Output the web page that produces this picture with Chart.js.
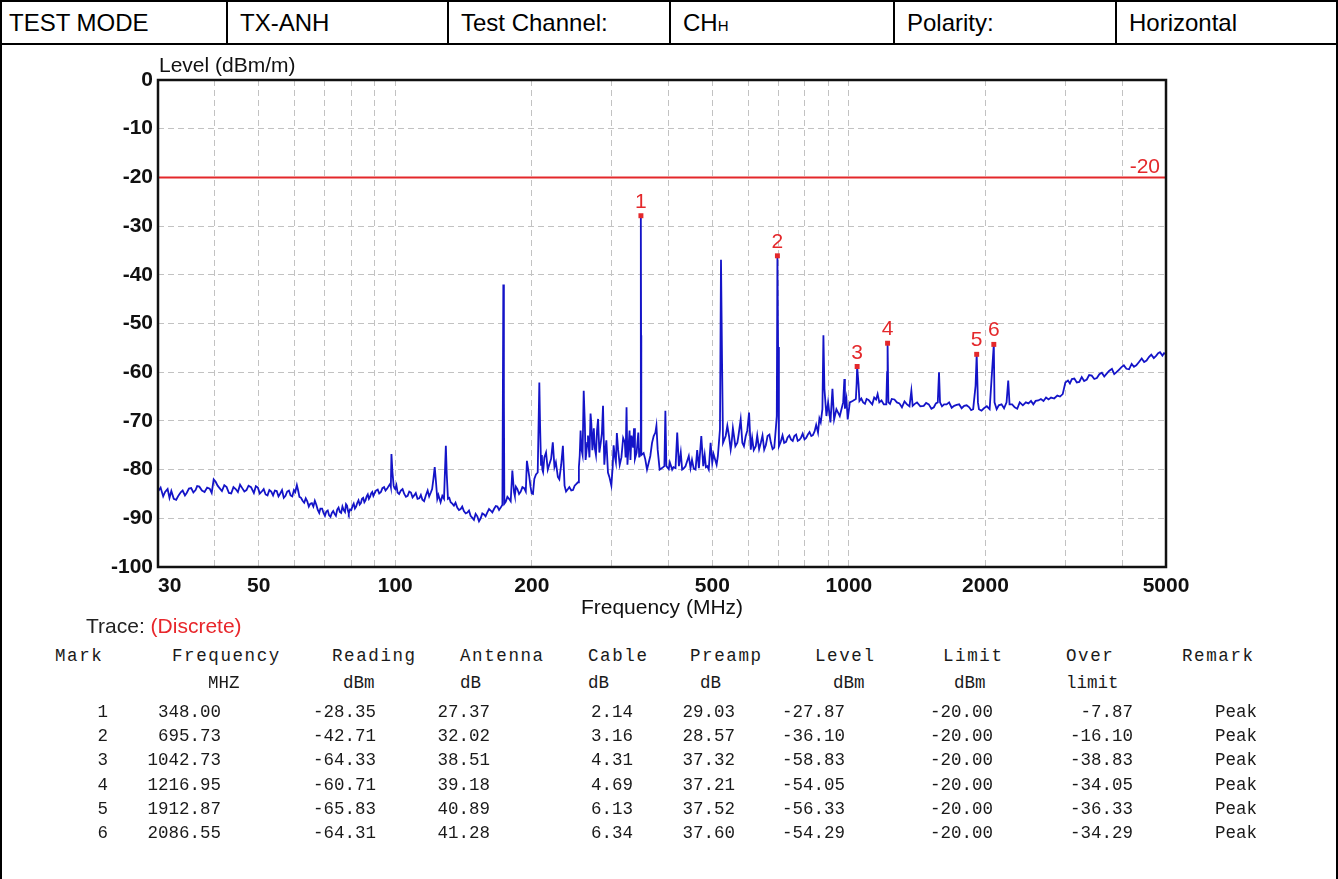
<!DOCTYPE html>
<html>
<head>
<meta charset="utf-8">
<title>Radiated emission - TX-ANH horizontal</title>
<script src="https://cdn.jsdelivr.net/npm/chart.js@4.4.1/dist/chart.umd.min.js"></script>
<style>
  body { margin: 0; background: #fff; }
  #page { position: relative; width: 1338px; height: 879px; overflow: hidden; font-family: Arial, "Liberation Sans", sans-serif; }
  #frame { position: absolute; left: 0; top: 0; width: 1334px; height: 900px; border-left: 2px solid #000; border-right: 2px solid #000; }
  #head { position: absolute; left: 0; top: 0; width: 1338px; border-collapse: collapse; table-layout: fixed; }
  #head td { border: 2px solid #000; height: 41px; padding: 0 0 0 12px; font-size: 24px; color: #000; white-space: nowrap; }
  #head td:first-child { padding-left: 7px; }
  #head .sub { font-size: 15px; }
  #chartBox { position: absolute; left: 0; top: 46px; }
  #traceLbl { position: absolute; left: 86px; top: 614px; font-size: 21px; color: #222; }
  #traceLbl span { color: #e8262b; }
  .t { position: absolute; font-family: "Liberation Mono", "Courier New", monospace; font-size: 17.5px; color: #1a1a1a; white-space: pre; line-height: 20px; }
  .t.h { letter-spacing: 1.6px; }
</style>
</head>
<body>
<div id="page">
  <div id="frame"></div>
  <table id="head">
    <colgroup><col style="width:226px"><col style="width:221px"><col style="width:222px"><col style="width:224px"><col style="width:222px"><col style="width:223px"></colgroup>
    <tr><td>TEST MODE</td><td>TX-ANH</td><td>Test Channel:</td><td>CH<span class="sub">H</span></td><td>Polarity:</td><td>Horizontal</td></tr>
  </table>
  <div id="chartBox"><canvas id="myChart" width="1338" height="580"></canvas></div>
  <div id="traceLbl">Trace: <span>(Discrete)</span></div>
  <div id="tbl"></div>
</div>
<script>
// axis ranges and ticks
const freqRange = [30, 5000];
const levelRange = [-100, 0];
const gridFreqs = [30, 40, 50, 60, 70, 80, 90, 100, 200, 300, 400, 500, 600, 700, 800, 900, 1000, 2000, 3000, 4000, 5000];
const xTickLabels = [30, 50, 100, 200, 500, 1000, 2000, 5000];
const limitLevel = -20;

// marker table
const markNo = [1, 2, 3, 4, 5, 6];
const markFreq = [348.00, 695.73, 1042.73, 1216.95, 1912.87, 2086.55];
const reading = [-28.35, -42.71, -64.33, -60.71, -65.83, -64.31];
const antenna = [27.37, 32.02, 38.51, 39.18, 40.89, 41.28];
const cable = [2.14, 3.16, 4.31, 4.69, 6.13, 6.34];
const preamp = [29.03, 28.57, 37.32, 37.21, 37.52, 37.60];
const markLevel = [-27.87, -36.10, -58.83, -54.05, -56.33, -54.29];
const markLimit = [-20.00, -20.00, -20.00, -20.00, -20.00, -20.00];
const overLimit = [-7.87, -16.10, -38.83, -34.05, -36.33, -34.29];
const remark = ['Peak', 'Peak', 'Peak', 'Peak', 'Peak', 'Peak'];

const trace = [
  [30,-84.5],[30.8,-85.5],[31.5,-84],[31.8,-85.8],[32.5,-86],[33.3,-85.3],[34,-84.3],[34.7,-84.8],[35.5,-83.8],[36.3,-84.2],
  [37,-83.5],[38,-84.6],[39,-83.9],[39.8,-82],[40.6,-83.3],[41.5,-84.4],[42.5,-83.6],[43.5,-84.9],[44.5,-84],[45.5,-83.1],
  [46.5,-84.5],[47.5,-83.3],[48.8,-84.8],[49.8,-83.7],[50.8,-84.5],[51.8,-85.1],[52.8,-84.2],[53.8,-85.3],[54.8,-84.4],[55.8,-84.9],
  [56.8,-85.8],[57.8,-84.5],[58.8,-85.3],[59.8,-84.2],[60.7,-83.2],[61.5,-85.6],[62.5,-86.4],[63.5,-85.9],[64.5,-87.6],[65.5,-86.9],
  [66.5,-86.4],[67.5,-88.3],[68.4,-88],[69.5,-88.9],[70.5,-88.6],[71.5,-89.4],[72.5,-88.9],[73.5,-89.1],[74.5,-88.2],[75.5,-88.7],
  [76.5,-87.6],[77.5,-88.7],[78.3,-87.4],[79,-89],[80,-88.3],[81,-87],[82,-87.6],[83,-86.3],[84,-86.9],[85,-85.8],
  [86,-86.3],[87,-85.1],[88,-85.6],[89,-84.6],[90,-84.9],[91.5,-84.1],[93,-84.6],[94.5,-83.6],[96,-83.9],[97.5,-82.9],
  [98.1,-76.8],[98.6,-80.5],[99.2,-83.3],
  [30.4,-83.7],[31.1,-84.6],[32.1,-84.4],[32.9,-86.2],[33.7,-84.6],[34.4,-85.3],[35.1,-83.9],[35.9,-84.7],[36.6,-83.4],[37.5,-84.3],
  [38.5,-83.7],[39.4,-84.8],[40.2,-82.5],[41,-83.8],[42,-83.2],[43,-84.8],[44,-83.6],[45,-84.6],[46,-83.8],[47,-84.2],
  [48.1,-83.6],[49.3,-83.4],[50.3,-84.9],[51.3,-84],[52.3,-85.3],[53.3,-84.5],[54.3,-84.3],[55.3,-85.5],[56.3,-84.2],[57.3,-85.4],
  [58.3,-84.3],[59.3,-85.5],[60.2,-84.6],[61.1,-84.3],[62,-85.8],[63,-86.8],[64,-86.5],[65,-87],[66,-87.6],[67,-87.2],
  [68,-88.9],[69,-88],[70,-89.5],[71,-88.4],[72,-89.7],[73,-88.5],[74,-89.5],[75,-87.8],[76,-88.9],[77,-88.3],
  [77.9,-87.1],[78.7,-88.5],[79.5,-88.2],[80.5,-87.5],[81.5,-88],[82.5,-86.8],[83.5,-87.2],[84.5,-86],[85.5,-86.7],[86.5,-85.5],
  [87.5,-86],[88.5,-84.9],[89.5,-85.4],[90.7,-84.3],[92.2,-84.9],[93.7,-83.8],[95.2,-84.3],[96.7,-83.4],[97.8,-83.5],[99.6,-83.8],
  [100,-84],[101.2,-84.7],[102.9,-84.3],[104.7,-85],[106.5,-85.4],[108.3,-84.7],[110.1,-85.3],[112,-86],[113.9,-85.2],[115.8,-86.5],
  [117.9,-84.3],[119.8,-84.7],[121.4,-81.9],[122.2,-79.5],[123,-82.6],[123.8,-86],[125.9,-86.7],[128.1,-86],[129.3,-75.1],[129.9,-81],
  [130.7,-86],[132.5,-86.7],[134.7,-87.4],[137,-87.8],[139.4,-88.1],[141.7,-88.5],[144.2,-88.8],[146.6,-89.5],[149.1,-90.3],[151.7,-89.6],
  [154.3,-90],[156.9,-89.2],[159.6,-88.8],[162.3,-88.4],[165.1,-88.1],[168,-87.6],[170.8,-87.8],[172.3,-87.2],[173.1,-42],[173.6,-64.8],
  [174,-87],[175.2,-86.6],[178.2,-86],[179.7,-86.5],[181.2,-80.2],[182.8,-84.7],[185.9,-84],[189.1,-84.5],[192.4,-83.8],[195.1,-78.2],
  [197.5,-81.5],[199.9,-84.9],[202.6,-81.9],[206.1,-80.6],[207.8,-62.1],[208.6,-71],[209.6,-79],[213.2,-77.5],[216.9,-80],[220.6,-77.8],
  [222.5,-74.4],[224.4,-79.5],[228.3,-81.5],[232.2,-79],[234.2,-75.1],[236.2,-83.3],[240.3,-84],[244.4,-84.3],[248.6,-83.3],[252.9,-82.6],
  [255.1,-77.1],[257.3,-75.8],[260.3,-63.8],[263.8,-76.5],[266,-73],[270.6,-70.6],[275.3,-75.5],[280,-69.6],[283.8,-74.5],[287.1,-66.9],
  [290.5,-76],[294.4,-80.6],[299.5,-83.3],[304.6,-77.1],[309.9,-75.8],[315.2,-77.5],[320.7,-74.4],[323.5,-67.2],[326.2,-76.5],[331.8,-73],
  [337.6,-77.8],[343.4,-72.4],[346.4,-75.8],[347.7,-75],[348.3,-52.4],[348.7,-77],
  [100.6,-83.2],[102,-85],[103.8,-84],[105.6,-85.6],[107.4,-84.5],[109.2,-85.7],[111,-84.8],[113,-85.9],[114.8,-86.2],[116.8,-85.3],
  [118.8,-85.5],[120.6,-84],[124.5,-85.2],[127,-85.4],[131.6,-85.8],[133.6,-87],[135.8,-86.8],[138.2,-88.3],[140.5,-87.6],[143,-89],
  [145.4,-88.4],[147.9,-89.9],[150.4,-89.1],[153,-90.6],[155.6,-89],[158.2,-89.6],[161,-88.1],[163.7,-88.8],[166.6,-87.5],[169.4,-88.3],
  [176.7,-85.6],[183.5,-85.4],[184.5,-83.5],[187.5,-85],[190.7,-83.6],[194,-84.5],[198.7,-83.5],[201.2,-85],[204.3,-81],[211,-80],
  [210.5,-77],[211.8,-80.5],[215,-76.5],[218.5,-79],[226,-78.5],[230,-82],[238,-84.5],[242,-83.6],[246.5,-84.2],[250.5,-83],
  [254,-79.5],[256.2,-72],[258.8,-77],[261.8,-70.5],[262.8,-78],[265,-74.5],[268,-77.5],[269.5,-68.5],[272,-76],[274,-71.5],
  [277,-77],[278.5,-72],[281.8,-76.5],[285.5,-72.5],[289,-79],[292,-74],[296.5,-81.5],[301.5,-79.5],[303,-75],[306.5,-78.5],
  [308,-72.5],[312.5,-79],[318,-73.5],[322,-77.5],[325,-79],[328.5,-72],[330,-78],[334.5,-75.5],[336,-71.5],[340.5,-76.5],[345,-77.5],
  [352.8,-76.6],[355.8,-77.9],[358.9,-80],[362,-78.6],[365,-77.2],[368.2,-74.5],[371.3,-73.1],[374.5,-72.4],[376.5,-71],[378.9,-75.9],
  [382.7,-80],[387.3,-79.7],[392,-79.3],[394,-67.9],[396,-79.3],[400.8,-79.9],[407.8,-80],[414.8,-79.7],[418.4,-72.4],[422,-79.3],
  [429,-80],[436.3,-79.3],[443.7,-77.2],[447.6,-79.7],[459.2,-80],[467.1,-79.7],[472.8,-73.1],[477.5,-79.3],[487.2,-79.3],[495.6,-74.5],
  [499.8,-78.6],[508.4,-78.3],[514.3,-77.2],[519.8,-71.7],[522.5,-36.9],[525.2,-57.2],[527.9,-74.5],[535.1,-73.1],[539.6,-71],[544.2,-73.1],
  [548.8,-75.9],[558.1,-73.1],[567.7,-74.5],[577.4,-69.7],[582.3,-74.5],[592.4,-73.1],[602.5,-68.3],[607.7,-75.9],[623.4,-75.2],[639.6,-74.5],
  [650.6,-75.9],[661.8,-73.1],[673.2,-74.5],[684.7,-75.5],[690,-71.7],[693.5,-69],[698,-54.8],[701,-75.2],[720,-74.5],[732.6,-73.4],
  [745.2,-73.8],[758.2,-73.1],[771.3,-74.1],[784.7,-73.4],[798.3,-73.8],[812.1,-72.8],[826.2,-73.1],[840.5,-72.1],[855,-72.4],[866.8,-70.3],
  [874.2,-67.6],[878.7,-52.4],[883.2,-63.4],[892.3,-69],[899.9,-66.2],[910.6,-70.3],[919.9,-63.4],[927.7,-69.7],[938.6,-67.6],[954.8,-69],
  [403,-78.5],[410.5,-79.5],[426,-76.5],[432,-79.8],[451,-78],[455,-79.8],[463,-76],[481,-77],[484,-79.5],[491,-80],[503,-76.8],[511,-79],
  [551,-74.8],[555,-71.5],[562,-75.2],[571,-73],[587,-75.2],[597,-72],[612,-73.5],[617,-76],[628,-73],[634,-75.8],[645,-73],[656,-75],
  [668,-72.8],[679,-75.8],[708,-74.2],[714,-73],[727,-74.3],[739,-73],[752,-74.1],[765,-72.8],[778,-73.9],[791,-72.6],[805,-73.5],
  [819,-72.3],[833,-72.9],[847,-70.8],[861,-69.5],
  [971.3,-66.2],[977.3,-61.4],[980,-67.5],[987.6,-65.5],[994,-69.7],[1004.7,-66.2],[1019,-65.9],[1036,-65.5],[1040,-62.4],[1050,-62.4],
  [1055,-65.9],[1075,-66.2],[1094,-65.5],[1116,-66.2],[1137,-65.2],[1157,-64.5],[1167,-66.2],[1194,-66.6],[1209,-66.6],[1214,-60],
  [1222,-66.2],[1243,-65.5],[1276,-66.2],[1309,-67.2],[1343,-66.6],[1373,-63.8],[1382,-66.9],[1413,-66.2],[1462,-66.9],[1500,-66.6],
  [1539,-67.2],[1570,-66.2],[1580,-60],[1588,-66.2],[1621,-66.6],[1663,-66.2],[1706,-66.9],[1750,-66.6],[1795,-66.9],[1842,-67.2],
  [1879,-67.6],[1902,-62.8],[1925,-66.2],[1935,-67.6],[1985,-67.4],[2043,-67.6],[2064,-61],[2094,-66.2],[2117,-67.6],[2170,-66.6],
  [2226,-66.2],[2245,-61.7],[2260,-66.6],[2320,-67.2],[2380,-66.2],[2455,-66.2],[2520,-65.9],[2580,-65.9],[2650,-65.5],[2720,-65.2],
  [2790,-65.2],[2880,-64.8],[2960,-64.5],[3000,-62.1],[3040,-61.7],[3101,-61.4],[3180,-62.1],[3260,-61],[3345,-61.5],[3430,-60.7],
  [3520,-61.2],[3610,-60.1],[3700,-60.3],[3800,-59.3],[3890,-60],[3984,-59],[4090,-59.3],[4200,-58.3],[4300,-58.6],[4420,-57.2],
  [4530,-57.6],[4640,-56.4],[4760,-56.6],[4850,-55.9],[4910,-56.6],[5000,-56.3],
  [1065,-65.4],[1085,-66.5],[1105,-65.7],[1126,-66.6],[1148,-65.6],[1180,-65.8],[1232,-66.5],[1260,-65.6],[1292,-66.4],[1326,-66],
  [1360,-67],[1397,-66.5],[1437,-67],[1480,-66.3],[1520,-67.5],[1555,-66.4],[1604,-67],[1642,-66.6],[1685,-67.3],[1728,-66.7],
  [1772,-67.4],[1818,-66.8],[1860,-67.8],[1960,-67.9],[2014,-67],[2140,-66.8],[2198,-67.4],[2290,-66.6],[2350,-67.5],[2418,-66.8],
  [2488,-66.4],[2550,-66.6],[2615,-65.8],[2685,-65.9],[2755,-65.6],[2835,-65.4],[2920,-65],
  [3070,-62.3],[3140,-61.3],[3220,-62],[3300,-61.8],[3385,-60.6],[3475,-61.4],[3565,-60.4],[3655,-60.9],[3750,-59.7],[3845,-60.4],
  [3937,-59.5],[4037,-58.6],[4145,-59.4],[4250,-58.9],[4360,-57.9],[4475,-57.9],[4585,-56.9],[4700,-57.1],[4805,-56.1],[4950,-56.1]
];

const FONT = 'Arial, "Liberation Sans", sans-serif';
const RED = '#e4282b';

// the trace passes through each marked peak
const tracePts = trace.map(p => ({ x: p[0], y: p[1] }))
  .concat(markFreq.map((f, i) => ({ x: f, y: markLevel[i] })))
  .sort((a, b) => a.x - b.x);

const overlay = {
  id: 'overlay',
  afterDraw(chart) {
    const { ctx, chartArea: a, scales: { x, y } } = chart;
    ctx.save();
    ctx.fillStyle = RED;
    ctx.font = '21px ' + FONT;
    ctx.textAlign = 'center';
    ctx.textBaseline = 'alphabetic';
    markFreq.forEach((f, i) => {
      ctx.fillText(String(markNo[i]), x.getPixelForValue(f), y.getPixelForValue(markLevel[i]) - 8);
    });
    ctx.textAlign = 'right';
    ctx.fillText(String(limitLevel), a.right - 6, y.getPixelForValue(limitLevel) - 4);

    ctx.fillStyle = '#111';
    ctx.textAlign = 'left';
    ctx.font = '21px ' + FONT;
    ctx.fillText('Level (dBm/m)', a.left + 1, a.top - 8);

    ctx.strokeStyle = '#111';
    ctx.lineWidth = 2.5;
    ctx.strokeRect(a.left, a.top, a.right - a.left, a.bottom - a.top);
    ctx.restore();
  }
};

const ctx = document.getElementById('myChart');
const myChart = new Chart(ctx, {
  type: 'line',
  data: {
    datasets: [
      {
        label: 'Markers',
        data: markFreq.map((f, i) => ({ x: f, y: markLevel[i] })),
        showLine: false,
        pointStyle: 'rect',
        pointRadius: 3.5,
        backgroundColor: RED,
        borderWidth: 0
      },
      {
        label: 'Trace',
        data: tracePts,
        borderColor: '#1414c8',
        borderWidth: 1.8,
        pointRadius: 0,
        tension: 0
      },
      {
        label: 'Limit',
        data: [{ x: freqRange[0], y: limitLevel }, { x: freqRange[1], y: limitLevel }],
        borderColor: RED,
        borderWidth: 2,
        pointRadius: 0
      }
    ]
  },
  options: {
    responsive: false,
    animation: false,
    layout: { padding: { left: 0, top: 34, right: 172, bottom: 0 } },
    plugins: {
      legend: { display: false },
      tooltip: { enabled: false }
    },
    scales: {
      x: {
        type: 'logarithmic',
        min: freqRange[0],
        max: freqRange[1],
        afterBuildTicks: s => { s.ticks = gridFreqs.map(v => ({ value: v })); },
        afterFit: s => { s.height = 59; },
        grid: { color: '#c2c2c2', lineWidth: 1, drawTicks: false },
        border: { display: false, dash: [6, 4] },
        ticks: {
          autoSkip: false,
          maxRotation: 0,
          padding: 7,
          color: '#111',
          font: { family: FONT, size: 21, weight: 'bold' },
          callback: v => xTickLabels.includes(v) ? (v === freqRange[0] ? '    ' + v : String(v)) : ''
        },
        title: {
          display: true,
          text: 'Frequency (MHz)',
          color: '#111',
          font: { family: FONT, size: 21 },
          padding: { top: 0, bottom: 5 }
        }
      },
      y: {
        min: levelRange[0],
        max: levelRange[1],
        afterFit: s => { s.width = 158; },
        grid: { color: '#c2c2c2', lineWidth: 1, drawTicks: false },
        border: { display: false, dash: [6, 4] },
        ticks: {
          stepSize: 10,
          padding: 5,
          color: '#111',
          font: { family: FONT, size: 21, weight: 'bold' },
          callback: v => String(v)
        }
      }
    }
  },
  plugins: [overlay]
});

// marker table under the chart
const tbl = document.getElementById('tbl');
function put(text, x, y, align, cls) {
  const d = document.createElement('div');
  d.className = 't' + (cls ? ' ' + cls : '');
  d.textContent = text;
  d.style.top = (y - 10) + 'px';
  if (align === 'right') d.style.right = (1338 - x) + 'px';
  else d.style.left = x + 'px';
  tbl.appendChild(d);
}
const heads = [['Mark', 55], ['Frequency', 172], ['Reading', 332], ['Antenna', 460], ['Cable', 588],
  ['Preamp', 690], ['Level', 815], ['Limit', 943], ['Over', 1066], ['Remark', 1182]];
heads.forEach(h => put(h[0], h[1], 656, 'left', 'h'));
const units = [['MHZ', 208], ['dBm', 343], ['dB', 460], ['dB', 588], ['dB', 700], ['dBm', 833], ['dBm', 954], ['limit', 1066]];
units.forEach(u => put(u[0], u[1], 683, 'left'));
const rightEdges = [108, 221, 376, 490, 633, 735, 845, 993, 1133, 1257];
markNo.forEach((n, i) => {
  const row = [String(n), markFreq[i].toFixed(2), reading[i].toFixed(2), antenna[i].toFixed(2), cable[i].toFixed(2),
    preamp[i].toFixed(2), markLevel[i].toFixed(2), markLimit[i].toFixed(2), overLimit[i].toFixed(2), remark[i]];
  const y = 712 + i * 24.2;
  row.forEach((s, c) => put(s, rightEdges[c], y, 'right'));
});
</script>
</body>
</html>
